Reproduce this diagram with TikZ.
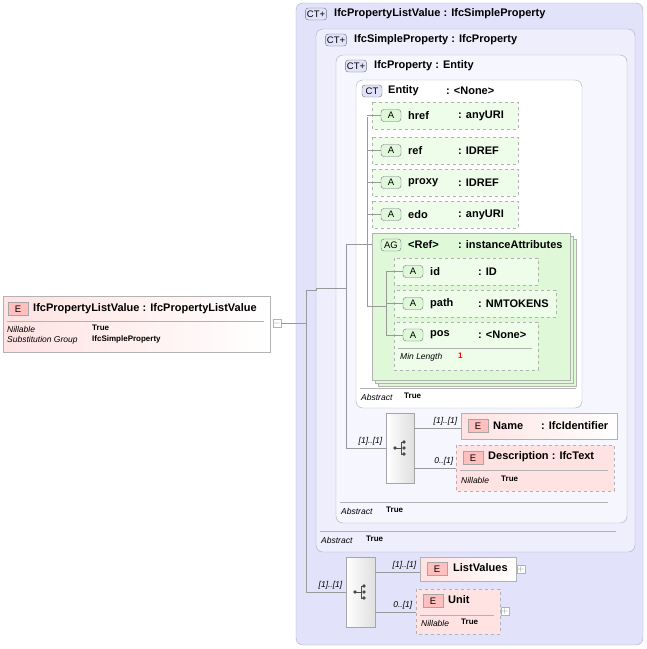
\documentclass[tikz,border=0pt]{standalone}
\usepackage{fontspec}
\setmainfont{Liberation Sans}
\usetikzlibrary{positioning}
\definecolor{ctfill}{RGB}{226,226,250}
\definecolor{ctline}{RGB}{170,170,190}
\definecolor{efill}{RGB}{255,226,226}
\definecolor{afill}{RGB}{238,252,234}
\definecolor{agfill}{RGB}{222,248,216}
\definecolor{tagline}{RGB}{110,110,130}
\tikzset{
  ctbox/.style={draw=ctline, rounded corners=7pt, fill=ctfill},
  elbox/.style={draw=gray!60, fill=efill},
  optbox/.style={draw=gray!60, dashed, fill=efill},
  attbox/.style={draw=gray!60, dashed, fill=afill},
  seqbox/.style={draw=gray!70, left color=white, right color=gray!25},
  tag/.style={draw=tagline, rounded corners=3pt, font=\fontsize{9.5}{10}\selectfont, inner sep=1.5pt, minimum width=20pt, minimum height=12pt},
  etag/.style={draw=gray!70, fill=red!25, font=\fontsize{9.5}{10}\selectfont, minimum width=20pt, minimum height=13pt, inner sep=1pt},
  lbl/.style={font=\bfseries\fontsize{11}{13}\selectfont, anchor=west, inner sep=0pt},
  prop/.style={font=\itshape\fontsize{8.5}{9}\selectfont, anchor=west, inner sep=0pt},
  val/.style={font=\bfseries\fontsize{8}{9}\selectfont, anchor=west, inner sep=0pt},
  card/.style={font=\itshape\fontsize{8.5}{9}\selectfont, anchor=south east, inner sep=1.5pt},
  wire/.style={draw=gray!80},
  pm/.style={draw=gray!60, fill=white, minimum size=8pt, inner sep=0pt, font=\fontsize{8}{8}\selectfont, text=gray}
}
\begin{document}
\begin{tikzpicture}[x=1pt,y=-1pt]
 \useasboundingbox (0,0) rectangle (647,649);
 %complex type frames
 \draw [ctbox] (296,3) rectangle (643,645);
 \draw [ctbox, fill=ctfill!60] (316,29) rectangle (635,552);
 \draw [ctbox, fill=ctfill!30] (336,55) rectangle (627,523);
 \draw [ctbox, fill=white] (356,80) rectangle (582,408);
 \node [tag, fill=ctfill] (ct1) at (316,14) {CT+};
 \node [lbl] (ct1l) at (334,14) {IfcPropertyListValue\ : IfcSimpleProperty};
 \node [tag, fill=ctfill] (ct2) at (336,40) {CT+};
 \node [lbl] (ct2l) at (354,40) {IfcSimpleProperty\ : IfcProperty};
 \node [tag, fill=ctfill] (ct3) at (356,66) {CT+};
 \node [lbl] (ct3l) at (374,66) {IfcProperty\ : Entity};
 \node [tag, fill=ctfill] (ct4) at (372,91) {CT};
 \node [lbl] (ct4l) at (388,91) {Entity};
 \node [lbl] (ct4t) at (446,91) {: <None>};

 %abstract rows
 \draw [gray!60] (360,388) -- (576,388);
 \node [prop] (ab4) at (361,397) {Abstract};
 \node [val] (ab4v) at (404,396) {True};
 \draw [gray!60] (340,502) -- (608,502);
 \node [prop] (ab3) at (341,511) {Abstract};
 \node [val] (ab3v) at (386,510) {True};
 \draw [gray!60] (320,531) -- (616,531);
 \node [prop] (ab2) at (321,540) {Abstract};
 \node [val] (ab2v) at (366,539) {True};

 %attributes
 \foreach \n/\y/\w/\t [count=\i] in {href/102/518/anyURI, ref/137/518/IDREF, proxy/169/518/IDREF, edo/201/518/anyURI}{
   \draw [attbox] (372,\y) rectangle (\w,\y+27);
   \node [tag, fill=agfill] (at\i) at (391,\y+13.5) {A};
   \node [lbl] (atn\i) at (408,\y+13.5) {\n};
   \node [lbl] (att\i) at (458,\y+13.5) {: \t};
 }

 %attribute group
 \draw [draw=gray!60, fill=agfill] (378,239) rectangle (576,386);
 \draw [draw=gray!60, fill=agfill] (375,236) rectangle (573,383);
 \draw [draw=gray!60, fill=agfill] (372,233) rectangle (570,380);
 \node [tag, fill=agfill] (ag) at (391,245) {AG};
 \node [lbl] (agn) at (408,245) {<Ref>};
 \node [lbl] (agt) at (458,245) {: instanceAttributes};
 \foreach \n/\y/\w/\t [count=\i] in {id/258/538/ID, path/290/556/NMTOKENS}{
   \draw [attbox] (394,\y) rectangle (\w,\y+27);
   \node [tag, fill=agfill] (gt\i) at (413,\y+13.5) {A};
   \node [lbl] (gtn\i) at (430,\y+13.5) {\n};
   \node [lbl] (gtt\i) at (478,\y+13.5) {: \t};
 }
 \draw [attbox] (394,322) rectangle (538,370);
 \node [tag, fill=agfill] (gt3) at (413,335) {A};
 \node [lbl] (gtn3) at (430,335) {pos};
 \node [lbl] (gtt3) at (478,335) {: <None>};
 \draw [gray!60] (398,348) -- (532,348);
 \node [prop] (ml) at (400,357) {Min Length};
 \node [val, red] (mlv) at (458,356) {1};

 %main element
 \draw [elbox, right color=white, left color=efill] (3,296) rectangle (270,352);
 \node [etag] (emain) at (18,309) {E};
 \node [lbl] (emainl) at (33,309) {IfcPropertyListValue\ : IfcPropertyListValue};
 \draw [gray!60] (7,321) -- (264,321);
 \node [prop] (nil) at (7,329) {Nillable};
 \node [val] (nilv) at (92,328) {True};
 \node [prop] (sg) at (7,340) {Substitution Group};
 \node [val] (sgv) at (92,339) {IfcSimpleProperty};
 \node [pm] (minus) at (277,323) {$-$};

 %sequences
 \draw [seqbox] (386,413) rectangle (414,483);
 \coordinate (s1) at (386,448);
 \draw [seqbox] (346,557) rectangle (375,627);
 \coordinate (s2) at (346,592);
 \foreach \cx/\cy in {400/448, 360/592}{
   \draw [black!70] (\cx-5,\cy) -- (\cx+1,\cy) (\cx+1,\cy-6) -- (\cx+1,\cy+6)
     (\cx+1,\cy-6) -- (\cx+4,\cy-6) (\cx+1,\cy+6) -- (\cx+4,\cy+6);
   \fill [black!70] (\cx-5,\cy) circle (1.8) (\cx+4,\cy-6) circle (1.8)
     (\cx+4,\cy) circle (1.8) (\cx+4,\cy+6) circle (1.8);
 }

 %sequence children
 \draw [elbox, right color=white, left color=efill] (461,413) rectangle (617,439);
 \node [etag] (en) at (478,426) {E};
 \node [lbl] (enl) at (493,426) {Name};
 \node [lbl] (ent) at (541,426) {: IfcIdentifier};
 \draw [optbox] (456,445) rectangle (614,491);
 \node [etag] (ed) at (473,458) {E};
 \node [lbl] (edl) at (488,457) {Description\ : IfcText};
 \draw [gray!60] (460,470) -- (608,470);
 \node [prop] (edn) at (461,480) {Nillable};
 \node [val] (ednv) at (501,479) {True};
 \draw [elbox, right color=white, left color=efill] (420,557) rectangle (516,581);
 \node [etag] (el) at (437,569) {E};
 \node [lbl] (ell) at (453,568) {ListValues};
 \node [pm] (pl) at (521,569) {$+$};
 \draw [optbox] (416,589) rectangle (500,634);
 \node [etag] (eu) at (433,601) {E};
 \node [lbl] (eul) at (448,600) {Unit};
 \draw [gray!60] (420,615) -- (494,615);
 \node [prop] (eun) at (421,623) {Nillable};
 \node [val] (eunv) at (461,622) {True};
 \node [pm] (pu) at (505,611) {$+$};

 %wires
 \coordinate (j1) at (306,323);
 \draw [wire] (minus.east) -- (j1);
 \draw [wire] (306,290) -- (306,592) -- (s2);
 \draw [wire] (306,290) -- (316,290) -- (316,288) -- (346,288);
 \draw [wire] (346,244) -- (346,448) -- (s1);
 \draw [wire] (346,244) -- (372,244);
 \draw [wire] (367,117) -- (367,306) -- (386,306);
 \foreach \i in {1,...,4} \draw [wire] (367,0|-at\i) -- (at\i.west);
 \draw [wire] (386,272) -- (386,336);
 \foreach \i in {1,2,3} \draw [wire] (386,0|-gt\i) -- (gt\i.west);
 \draw [wire] (414,428) -- (461,428);
 \draw [wire] (414,468) -- (456,468);
 \draw [wire] (375,572) -- (420,572);
 \draw [wire] (375,612) -- (416,612);

 %cardinalities
 \node [card] (c1) at (384,447) {[1]..[1]};
 \node [card] (c2) at (459,427) {[1]..[1]};
 \node [card] (c3) at (455,467) {0..[1]};
 \node [card] (c4) at (344,591) {[1]..[1]};
 \node [card] (c5) at (418,571) {[1]..[1]};
 \node [card] (c6) at (414,611) {0..[1]};
\end{tikzpicture}
\end{document}
